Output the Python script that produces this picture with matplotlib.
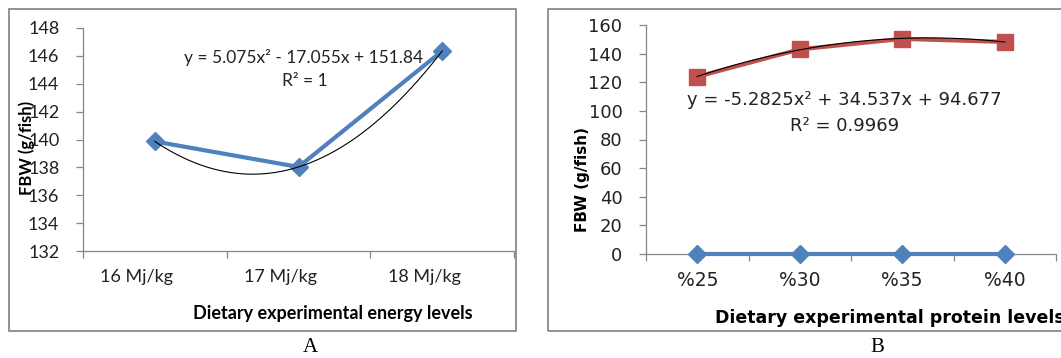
import numpy as np
import matplotlib
matplotlib.use("Agg")
import matplotlib.pyplot as plt
from matplotlib.patches import Rectangle
import matplotlib.transforms as mtransforms

# ---- data ----
energy_cats = ["16 Mj/kg", "17 Mj/kg", "18 Mj/kg"]
energy_fbw = [139.86, 138.03, 146.35]

protein_cats = ["%25", "%30", "%35", "%40"]
protein_fbw = [123.9, 143.0, 150.3, 148.2]
protein_zero = [0, 0, 0, 0]

eqA = "y = 5.075x\u00b2 - 17.055x + 151.84"
r2A = "R\u00b2 = 1"
eqB = "y = -5.2825x\u00b2 + 34.537x + 94.677"
r2B = "R\u00b2 = 0.9969"

W, H = 1061, 358
fig = plt.figure(figsize=(W / 100, H / 100), dpi=100)
fig.patch.set_facecolor("white")

def fx(px):
    return px / W

def fy(py):
    return 1 - py / H

BLUE = "#4F81BD"
RED = "#C0504D"
GRAY = "#868686"
TXT = "#222222"

# panel frames
for x0, x1 in [(9, 516), (548, 1068)]:
    fig.patches.append(Rectangle((fx(x0), fy(331)), fx(x1 - x0), (331 - 9) / H,
                                 transform=fig.transFigure, fill=False,
                                 edgecolor="#808080", linewidth=1.2))

def style_axes(ax):
    for s in ["top", "right"]:
        ax.spines[s].set_visible(False)
    for s in ["left", "bottom"]:
        ax.spines[s].set_color(GRAY)
        ax.spines[s].set_linewidth(0.9)
    ax.tick_params(axis="both", which="major", direction="out", length=5,
                   color=GRAY, width=0.9)
    ax.patch.set_alpha(0)

# ---- Panel A ----
axA = fig.add_axes([fx(83), fy(251), fx(514 - 83), (251 - 28) / H])
style_axes(axA)
xA = np.arange(1, len(energy_cats) + 1)
axA.plot(xA, energy_fbw, color=BLUE, lw=3, marker="D", ms=9,
         markerfacecolor=BLUE, markeredgecolor=BLUE, zorder=3)
cA = np.polyfit(xA, energy_fbw, 2)
xs = np.linspace(1, 3, 200)
axA.plot(xs, np.polyval(cA, xs), color="black", lw=0.8, zorder=4)
axA.set_xlim(0.5, 3.5)
axA.set_ylim(132, 148)
axA.set_yticks(np.arange(132, 149, 2))
axA.tick_params(axis="y", labelsize=13, pad=12)
for lab in axA.get_yticklabels():
    lab.set_fontfamily("Lato")
    lab.set_color(TXT)
axA.set_xticks(np.arange(0.5, 3.6, 1))
axA.set_xticklabels([])
offA = mtransforms.ScaledTranslation(-18 / 100, 0, fig.dpi_scale_trans)
ylabA = 132 - (277 - 251) / (223 / 16)
for xi, c in zip(xA, energy_cats):
    axA.text(xi, ylabA, c, transform=axA.transData + offA, clip_on=False,
             ha="center", va="center", fontsize=13, family="Lato", color=TXT)
fig.text(fx(27), fy(148), "FBW (g/fish)", rotation=90,
         ha="center", va="center", fontsize=12, fontweight="bold", family="Lato")
fig.text(fx(333), fy(314), "Dietary experimental energy levels", ha="center", va="center",
         fontsize=13, fontweight="bold", family="Lato")
fig.text(fx(304), fy(58), eqA, ha="center", va="center", fontsize=12.5, family="Lato", color=TXT)
fig.text(fx(305), fy(81), r2A, ha="center", va="center", fontsize=12.5, family="Lato", color=TXT)

# ---- Panel B ----
axB = fig.add_axes([fx(646), fy(254), fx(1056 - 646), (254 - 25) / H])
style_axes(axB)
xB = np.arange(1, len(protein_cats) + 1)
axB.plot(xB, protein_zero, color=BLUE, lw=3, marker="D", ms=9,
         markerfacecolor=BLUE, markeredgecolor=BLUE, zorder=3, clip_on=False)
axB.plot(xB, protein_fbw, color=RED, lw=3, marker="s", ms=11,
         markerfacecolor=RED, markeredgecolor=RED, zorder=3)
cB = np.polyfit(xB, protein_fbw, 2)
xs = np.linspace(1, 4, 200)
axB.plot(xs, np.polyval(cB, xs), color="black", lw=0.8, zorder=4)
axB.set_xlim(0.5, 4.5)
axB.set_ylim(0, 160)
axB.set_yticks(np.arange(0, 161, 20))
axB.tick_params(axis="y", labelsize=13, pad=12)
for lab in axB.get_yticklabels():
    lab.set_fontfamily("DejaVu Sans")
    lab.set_color(TXT)
axB.set_xticks(np.arange(0.5, 4.6, 1))
axB.set_xticklabels([])
for xi, c in zip(xB, protein_cats):
    axB.text(xi, -(281 - 254) / (229 / 160), c, ha="center", va="center",
             fontsize=13.5, family="DejaVu Sans", color=TXT, clip_on=False)
fig.text(fx(583), fy(180), "FBW (g/fish)", rotation=90, ha="center", va="center",
         fontsize=11, fontweight="bold", family="DejaVu Sans")
fig.text(fx(715), fy(318), "Dietary experimental protein levels", ha="left", va="center",
         fontsize=12.5, fontweight="bold", family="DejaVu Sans")
fig.text(fx(844), fy(100), eqB, ha="center", va="center", fontsize=13, family="DejaVu Sans", color=TXT)
fig.text(fx(845), fy(126), r2B, ha="center", va="center", fontsize=13, family="DejaVu Sans", color=TXT)

# panel captions
fig.text(fx(310), fy(347), "A", ha="center", va="center", fontsize=15, family="Liberation Serif")
fig.text(fx(877), fy(347), "B", ha="center", va="center", fontsize=15, family="Liberation Serif")

fig.savefig("out.png", dpi=100)
